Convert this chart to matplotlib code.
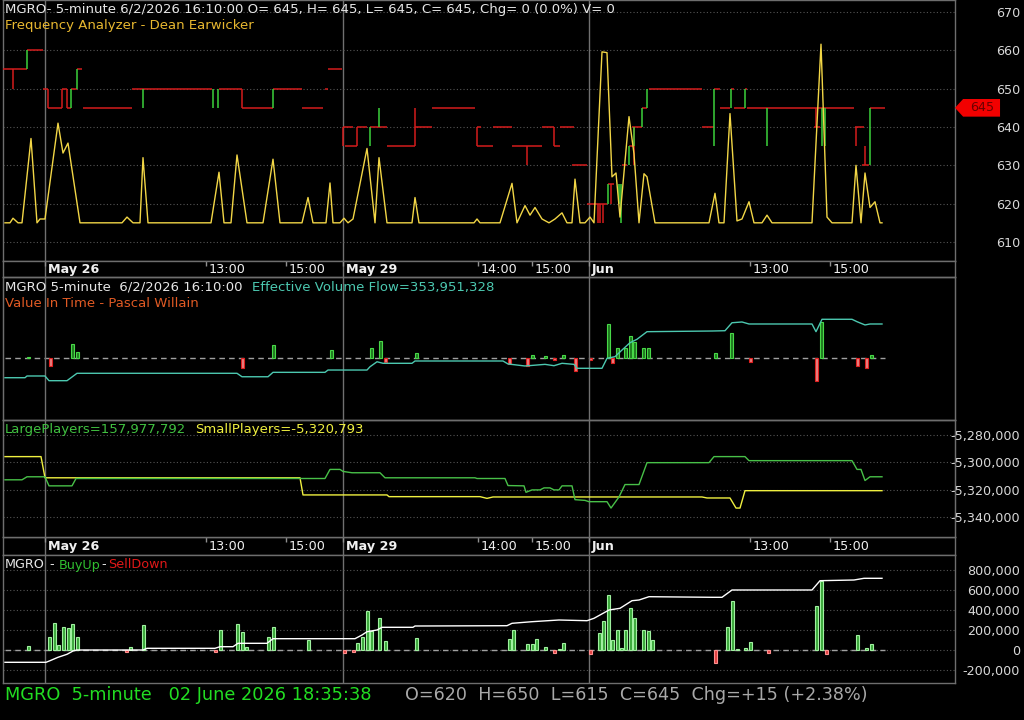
import matplotlib
matplotlib.use("Agg")
import matplotlib.pyplot as plt
from matplotlib.patches import Polygon
from matplotlib.transforms import blended_transform_factory

# ---------------------------------------------------------------- palette
BG = "#000000"
FRAME = "#6e6e6e"
GRID = "#555555"
TXT = "#e6e6e6"
YEL = "#f2d646"
RED = "#d41c1c"
GRN = "#3cd23c"
CYAN = "#4cc8b0"

# ---------------------------------------------------------------- data
# x = bar position along the compressed intraday axis
day_lines = [45, 343, 589]
tick_x = [45, 206, 286, 343, 478, 532, 589, 750, 830]
tick_lab = ["May 26", "13:00", "15:00", "May 29", "14:00", "15:00", "Jun", "13:00", "15:00"]
tick_bold = [True, False, False, True, False, False, True, False, False]

# panel 1: frequency analyzer (price units)
freq_x = [5, 10, 13, 18, 22, 31, 37, 40, 45, 58, 63, 68, 80, 122, 127, 133, 140, 143, 148,
          211, 219, 224, 231, 237, 247, 263, 273, 280, 302, 308, 313, 326, 330, 333, 340,
          344, 348, 353, 367, 375, 379, 387, 412, 415, 419, 474, 477, 480, 500, 512, 517,
          525, 530, 535, 542, 549, 555, 562, 567, 572, 575, 580, 585, 590, 594, 602, 607,
          612, 616, 620, 629, 634, 639, 644, 647, 655, 709, 715, 719, 724, 730, 737, 742,
          749, 754, 762, 767, 772, 812, 821, 827, 832, 852, 856, 861, 865, 870, 875, 880, 882]
freq_y = [615, 615, 616.2, 615, 615, 637, 615, 616, 616, 641, 633.2, 635.8, 615, 615, 616.5,
          615, 615, 632, 615, 615, 628.2, 615, 615, 632.7, 615, 615, 631.6, 615, 615, 621.6,
          615, 615, 625.4, 615, 615, 616.2, 615, 616, 634.4, 615, 632, 615, 615, 621.6, 615,
          615, 616, 615, 615, 625.3, 615, 619.5, 617, 619, 616, 615, 616, 617.6, 615, 615,
          626.4, 615, 615, 616.5, 615, 659.6, 659.4, 627, 628, 616.5, 642.7, 633, 615, 627.8,
          627, 615, 615, 622.7, 615, 615, 643.5, 615.5, 616, 620.5, 615, 615, 617, 615, 615,
          661.6, 616.5, 615, 615, 630, 615, 628, 619, 620.5, 615, 615]

# panel 1: close step line, horizontal runs and up/down moves
step_h_x0 = [3, 27, 43, 48, 62, 67, 71, 77, 83, 132, 219, 242, 273, 302, 325, 328,
             343, 345, 357, 370, 387, 415, 432, 477, 477, 493, 512, 542, 554, 560, 572,
             587, 608, 622, 629, 632, 642, 649, 702, 714, 720, 731, 734, 745, 747, 814,
             855, 862, 870]
step_h_x1 = [27, 43, 48, 62, 67, 71, 77, 82, 132, 212, 242, 273, 302, 323, 328, 342,
             353, 357, 367, 387, 415, 432, 475, 481, 493, 512, 542, 554, 560, 574, 587,
             607, 614, 627, 634, 642, 647, 702, 714, 720, 730, 734, 745, 747, 854, 820,
             864, 869, 885]
step_h_lvl = [655, 660, 650, 645, 650, 645, 650, 655, 645, 650, 650, 645, 650, 645, 650, 655,
              640, 635, 640, 640, 635, 640, 645, 640, 635, 640, 635, 640, 635, 640, 630,
              620, 625, 630, 635, 640, 645, 650, 640, 650, 645, 650, 645, 650, 645, 640,
              640, 630, 645]
down_x = [13, 48, 62, 67, 242, 343, 357, 415, 477, 527, 554, 598, 600, 603, 611, 634, 816, 856, 865]
down_y0 = [655, 650, 645, 650, 650, 640, 640, 645, 640, 635, 640, 620, 620, 620, 625, 640, 645, 640, 635]
down_y1 = [650, 645, 650, 645, 645, 635, 635, 635, 635, 630, 635, 615, 615, 615, 620, 630, 640, 635, 630]
up_x = [27, 71, 77, 143, 213, 218, 273, 370, 379, 608, 619, 621, 629, 634, 642, 647, 714,
        731, 745, 767, 822, 825, 870]
up_y0 = [655, 645, 650, 650, 650, 650, 645, 635, 640, 620, 620, 615, 630, 635, 640, 645, 635,
         645, 645, 645, 645, 645, 630]
up_y1 = [660, 650, 655, 645, 645, 645, 650, 640, 645, 625, 625, 625, 635, 640, 645, 650, 650,
         650, 650, 635, 635, 635, 645]
last_close = 645

# panel 2: effective volume flow (millions) and value in time (shares)
evf_x = [5, 25, 27, 45, 49, 67, 77, 237, 242, 268, 273, 325, 328, 367, 370, 377, 383, 412,
         415, 503, 508, 525, 545, 554, 562, 574, 577, 602, 607, 615, 622, 630, 637, 647,
         712, 725, 732, 742, 749, 812, 816, 822, 852, 857, 865, 870, 882]
evf_y = [-205, -205, -187, -187, -236, -236, -159, -159, -195, -195, -149, -149, -125, -125,
         -91, -39, -55, -55, -31, -31, -62, -83, -66, -80, -55, -66, -107, -107, -3, 14, 83,
         159, 195, 274, 281, 284, 367, 375, 354, 354, 274, 403, 403, 378, 344, 354, 354]
vit_x = [28, 50, 72, 77, 242, 273, 331, 371, 380, 385, 416, 509, 527, 532, 545, 554, 563,
         575, 590, 608, 612, 617, 625, 630, 634, 643, 648, 715, 731, 750, 816, 821, 857,
         866, 871]
vit_y = [1000, -8000, 14000, 6000, -10000, 13000, 8000, 10000, 17000, -4000, 5000, -6000,
         -8000, 3000, 2500, -2000, 3000, -13000, -2000, 34000, -5000, 10000, 10000, 22000,
         16000, 10000, 10000, 5000, 25000, -4000, -23000, 36000, -8000, -10000, 3000]

# panel 3: large / small players
small_x = [5, 41, 45, 300, 303, 387, 389, 480, 487, 493, 702, 707, 730, 736, 740, 745, 882]
small_y = [-5295780, -5295780, -5311330, -5311330, -5323920, -5323920, -5325180, -5325180,
           -5326440, -5325410, -5325410, -5326150, -5326150, -5333560, -5333560, -5320793,
           -5320793]
large_x = [5, 22, 27, 45, 49, 72, 76, 325, 330, 340, 343, 352, 380, 385, 475, 477, 505,
           508, 524, 526, 532, 540, 544, 550, 554, 559, 562, 572, 575, 585, 589, 607, 611,
           619, 625, 639, 647, 709, 714, 745, 749, 852, 857, 861, 865, 870, 882]
large_y = [157975570, 157975570, 157977790, 157977790, 157971130, 157971130, 157976530,
           157976530, 157983200, 157983200, 157981720, 157980750, 157980750, 157977050,
           157977050, 157976530, 157976530, 157971350, 157971130, 157966390, 157968160,
           157968160, 157969640, 157969640, 157968160, 157968160, 157971130, 157971130,
           157960980, 157960460, 157959500, 157959500, 157954830, 157962980, 157972090,
           157972090, 157988160, 157988160, 157992610, 157992610, 157989640, 157989640,
           157983200, 157983200, 157975050, 157977792, 157977792]

# panel 4: buy up - sell down
bs_x = [28, 49, 54, 58, 63, 68, 72, 77, 126, 130, 143, 215, 220, 237, 242, 246, 268, 273,
        308, 344, 353, 357, 362, 367, 371, 379, 385, 416, 509, 513, 527, 532, 536, 545,
        554, 559, 563, 590, 599, 603, 608, 612, 617, 621, 625, 630, 634, 643, 648, 652,
        715, 727, 732, 737, 745, 750, 768, 816, 821, 826, 857, 866, 871]
bs_y = [40000, 127000, 267000, 47000, 227000, 217000, 257000, 127000, -23000, 27000, 247000,
        -23000, 200000, 257000, 177000, 27000, 127000, 233000, 100000, -33000, -23000, 73000,
        133000, 390000, 193000, 323000, 90000, 117000, 110000, 200000, 60000, 60000, 110000,
        27000, -33000, 10000, 67000, -43000, 167000, 293000, 547000, 100000, 200000, 17000,
        200000, 417000, 317000, 197000, 190000, 100000, -133000, 227000, 487000, 10000,
        17000, 77000, -33000, 440000, 687000, -43000, 147000, 17000, 57000]
cum_x = [5, 46, 50, 58, 67, 73, 77, 143, 147, 215, 220, 233, 238, 267, 273, 355, 362, 367,
         377, 382, 413, 415, 507, 512, 532, 559, 587, 594, 600, 609, 620, 632, 639, 649,
         712, 722, 732, 812, 820, 854, 864, 882]
cum_y = [-123000, -123000, -107000, -73000, -43000, -10000, 0, 0, 17000, 17000, 33000,
         33000, 67000, 67000, 113000, 113000, 150000, 183000, 200000, 227000, 227000,
         240000, 243000, 267000, 283000, 300000, 293000, 317000, 350000, 400000, 417000,
         493000, 500000, 533000, 527000, 527000, 600000, 600000, 693000, 700000, 717000,
         717000]

W, H = 1024, 720
X0, X1 = 3, 955


def box(top, bottom):
    return [X0 / W, 1 - bottom / H, (X1 - X0) / W, (bottom - top) / H]


def style(ax):
    ax.set_facecolor(BG)
    ax.set_xlim(X0, X1)
    ax.set_xticks([])
    for s in ax.spines.values():
        s.set_color(FRAME)
        s.set_linewidth(1)
    for x in day_lines:
        ax.axvline(x, color="#707070", lw=1, zorder=1)


def right_labels(ax, vals, labels):
    ax.yaxis.tick_right()
    ax.set_yticks(vals)
    ax.set_yticklabels(labels)
    ax.tick_params(axis="y", length=0, pad=46.8, labelsize=9.2, labelcolor="#d8d8d8")
    for t in ax.get_yticklabels():
        t.set_horizontalalignment("right")
    for v in vals:
        ax.axhline(v, color=GRID, lw=0.8, ls=(0, (1, 2)), zorder=1)


fig = plt.figure(figsize=(W / 100, H / 100), dpi=100, facecolor=BG)


def ftext(x, y, s, color, size=9.5, **kw):
    fig.text(x / W, 1 - y / H, s, color=color, fontsize=size, va="center", ha="left", **kw)


# ---------------------------------------------------------------- panel 1
ax1 = fig.add_axes(box(0, 261))
style(ax1)
ax1.set_ylim(605.04, 673.13)
right_labels(ax1, [610, 620, 630, 640, 650, 660, 670],
             ["610", "620", "630", "640", "650", "660", "670"])
ax1.hlines(step_h_lvl, step_h_x0, step_h_x1, color=RED, lw=1.1, zorder=3)
ax1.vlines(down_x, down_y0, down_y1, color=RED, lw=1.1, zorder=3)
ax1.vlines(up_x, up_y0, up_y1, color=GRN, lw=1.1, zorder=3)
ax1.plot(freq_x, freq_y, color=YEL, lw=1.0, zorder=4)
tr = blended_transform_factory(ax1.transAxes, ax1.transData)
tag = Polygon([(1.0, last_close), (1.0085, last_close + 2.3), (1.0473, last_close + 2.3),
               (1.0473, last_close - 2.3), (1.0085, last_close - 2.3)],
              closed=True, facecolor="#f20000", edgecolor="none", transform=tr,
              clip_on=False, zorder=6)
ax1.add_patch(tag)
ax1.text(1.029, last_close, f"{last_close}", transform=tr, color="#6a0000", fontsize=9.2,
         ha="center", va="center", zorder=7)

# ---------------------------------------------------------------- date bands
for top, bottom in ((261, 277), (537, 555)):
    band = fig.add_axes(box(top, bottom))
    style(band)
    band.set_ylim(0, 1)
    band.set_yticks([])
    band.vlines(tick_x, 0.7, 1.0, color="#909090", lw=1)
    for x, lab, b in zip(tick_x, tick_lab, tick_bold):
        band.text(x + 3, 0.45, lab, color="#f0f0f0", fontsize=9.2,
                  fontweight="bold" if b else "normal", ha="left", va="center")

# ---------------------------------------------------------------- panel 2
ax2 = fig.add_axes(box(277, 420))
style(ax2)
ax2.set_ylim(-645, 843)
ax2v = ax2.twinx()
ax2.set_yticks([])
ax2v.set_ylim(-62000, 81000)
ax2v.set_yticks([])
ax2v.set_xlim(X0, X1)
ax2v.axhline(0, xmin=(5 - X0) / (X1 - X0), xmax=(885 - X0) / (X1 - X0),
             color="#a0a0a0", lw=1, ls=(0, (4, 3)), zorder=1)
for x, v in zip(vit_x, vit_y):
    if v >= 0:
        fc, ec = "#1f7a1f", "#48d848"
    else:
        fc, ec = "#e88080", "#e02020"
    ax2v.bar(x, v, width=3, facecolor=fc, edgecolor=ec, linewidth=0.8, zorder=2)
ax2.plot(evf_x, evf_y, color=CYAN, lw=1.0, zorder=5)
ax2.set_zorder(ax2v.get_zorder() + 1)
ax2.patch.set_visible(False)
for s in ax2v.spines.values():
    s.set_color(FRAME)

# ---------------------------------------------------------------- panel 3
ax3 = fig.add_axes(box(420, 537))
style(ax3)
ax3.set_ylim(-5354810, -5268890)
ax3g = ax3.twinx()
ax3g.set_ylim(157933570, 158019490)
ax3g.set_yticks([])
ax3g.set_xlim(X0, X1)
ax3g.plot(large_x, large_y, color="#48c048", lw=1.0, zorder=3)
for s in ax3g.spines.values():
    s.set_color(FRAME)
right_labels(ax3, [-5340000, -5320000, -5300000, -5280000],
             ["-5,340,000", "-5,320,000", "-5,300,000", "-5,280,000"])
ax3.plot(small_x, small_y, color="#f0f040", lw=1.0, zorder=4)

# ---------------------------------------------------------------- panel 4
ax4 = fig.add_axes(box(555, 683))
style(ax4)
ax4.set_ylim(-330000, 950000)
right_labels(ax4, [-200000, 0, 200000, 400000, 600000, 800000],
             ["-200,000", "0", "200,000", "400,000", "600,000", "800,000"])
ax4.axhline(0, xmin=(5 - X0) / (X1 - X0), xmax=(885 - X0) / (X1 - X0),
            color="#a0a0a0", lw=1, ls=(0, (4, 3)), zorder=2)
for x, v in zip(bs_x, bs_y):
    if v >= 0:
        fc, ec = "#3aa83a", "#a0f0a0"
    else:
        fc, ec = "#e04040", "#ff9090"
    ax4.bar(x, v, width=3, facecolor=fc, edgecolor=ec, linewidth=0.8, zorder=3)
ax4.plot(cum_x, cum_y, color="#ffffff", lw=1.0, zorder=4)

# ---------------------------------------------------------------- captions
ftext(5, 9, "MGRO- 5-minute 6/2/2026 16:10:00 O= 645, H= 645, L= 645, C= 645, "
      "Chg= 0 (0.0%) V= 0", TXT)
ftext(5, 25, "Frequency Analyzer - Dean Earwicker", "#e8b830")
ftext(5, 287, "MGRO 5-minute  6/2/2026 16:10:00", TXT)
ftext(252, 287, "Effective Volume Flow=353,951,328", CYAN)
ftext(5, 303, "Value In Time - Pascal Willain", "#e05a24")
ftext(5, 430, "LargePlayers=157,977,792", "#40c040")
ftext(195, 430, "SmallPlayers=-5,320,793", "#f0f040")
ftext(5, 565, "MGRO", TXT, size=9.2)
ftext(49, 565, "-", TXT, size=9.2)
ftext(59, 565, "BuyUp", "#30c030", size=9.2)
ftext(101, 565, "-", TXT, size=9.2)
ftext(108, 565, "SellDown", "#e01818", size=9.2)
ftext(5, 695, "MGRO  5-minute   02 June 2026 18:35:38", "#22dd22", size=12.8)
ftext(405, 695, "O=620  H=650  L=615  C=645  Chg=+15 (+2.38%)", "#a8a8a8", size=12.6)

fig.savefig("out.png", dpi=100, facecolor=BG)
